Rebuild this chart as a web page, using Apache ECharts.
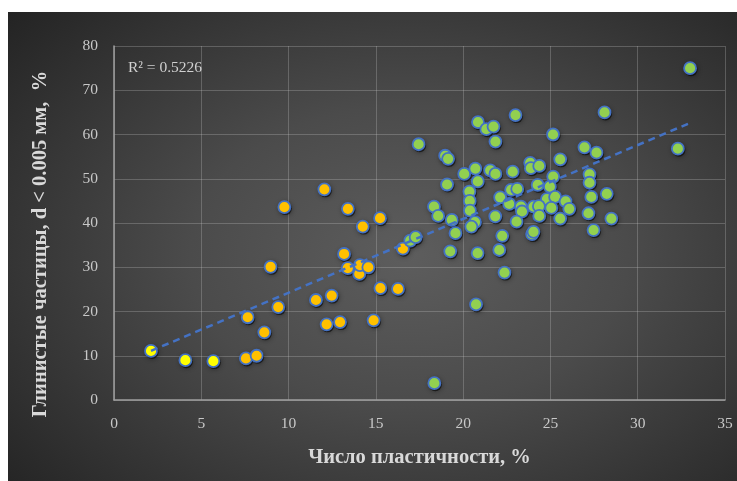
<!DOCTYPE html>
<html>
<head>
<meta charset="utf-8">
<script src="https://cdn.jsdelivr.net/npm/echarts@6/dist/echarts.min.js"></script>
<style>
html,body{margin:0;padding:0;background:#fff;}
#bg{position:absolute;left:8px;top:12px;width:729px;height:469px;
background:radial-gradient(ellipse 75% 80% at 55% 52%, #5d5d5d 0%, #4b4b4b 40%, #333 75%, #222 100%);}
#chart{position:absolute;left:0;top:0;width:737px;height:481px;}
</style>
</head>
<body>
<div id="bg"></div>
<div id="chart"></div>
<script>
// Yellow series
const yellowX = [2.12, 4.09, 5.69];
const yellowY = [11.1, 9.0, 8.8];
// Orange series
const orangeX = [7.56, 8.17, 7.66, 8.61, 8.97, 9.41, 9.76, 11.57, 12.05, 12.47, 12.18, 12.95, 13.18, 13.39, 13.40, 14.05, 14.09, 14.25, 14.57, 14.87, 15.24, 15.26, 16.27, 16.55];
const orangeY = [9.4, 10.0, 18.7, 15.3, 30.1, 21.0, 43.6, 22.6, 47.6, 23.6, 17.1, 17.6, 33.0, 29.8, 43.2, 28.5, 30.5, 39.2, 30.0, 18.0, 41.1, 25.3, 25.1, 34.2];
// Green series
const greenX = [33.0, 28.1, 23.0, 20.85, 21.33, 21.74, 21.85, 17.45, 25.15, 32.3, 26.95, 27.64, 18.97, 19.14, 25.56, 23.84, 23.88, 24.36, 20.06, 20.70, 21.55, 21.85, 22.84, 25.16, 27.24, 27.24, 19.08, 20.84, 24.27, 24.97, 20.36, 22.75, 23.10, 28.23, 27.34, 22.12, 24.80, 25.27, 25.87, 26.08, 20.38, 18.33, 18.57, 22.64, 23.31, 23.37, 24.04, 24.34, 25.05, 20.39, 19.35, 20.68, 21.84, 23.06, 24.36, 25.56, 27.18, 28.49, 27.47, 19.56, 22.24, 23.95, 24.03, 16.97, 17.28, 20.47, 19.26, 20.83, 22.07, 22.37, 20.74, 18.35];
const greenY = [75.0, 65.0, 64.4, 62.8, 61.2, 61.8, 58.4, 57.8, 60.0, 56.8, 57.1, 55.9, 55.2, 54.5, 54.4, 53.6, 52.4, 52.9, 51.1, 52.3, 51.9, 51.1, 51.6, 50.5, 51.0, 49.1, 48.7, 49.4, 48.6, 48.2, 47.1, 47.5, 47.7, 46.6, 45.9, 45.8, 45.4, 45.9, 44.9, 43.2, 45.0, 43.7, 41.6, 44.3, 43.7, 42.6, 43.7, 43.8, 43.4, 42.8, 40.7, 40.2, 41.5, 40.3, 41.6, 41.0, 42.2, 41.0, 38.4, 37.7, 37.1, 37.5, 38.0, 36.0, 36.8, 39.2, 33.6, 33.2, 33.9, 28.8, 21.6, 3.8];
// Linear trendline endpoints
const trendX = [2.12, 33.05];
const trendY = [11.1, 62.7];
// Axis ticks
const xTicks = [0, 5, 10, 15, 20, 25, 30, 35];
const yTicks = [0, 10, 20, 30, 40, 50, 60, 70, 80];
const xTitle = 'Число пластичности, %';
const yTitle = 'Глинистые частицы, d < 0.005 мм,  %';
const r2Text = 'R² = 0.5226';

const zip = (xs, ys) => xs.map((x, i) => [x, ys[i]]);
const serif = '"Liberation Serif", "DejaVu Serif", serif';

function markerStyle(color) {
  return {color: color, opacity: 1, borderColor: '#4472C4', borderWidth: 1.8};
}
function shadowSeries(xs, ys) {
  return {type: 'scatter', data: zip(xs, ys), symbolSize: 13, symbolOffset: [1, 1.5],
    silent: true, z: 2,
    itemStyle: {color: 'rgba(0,0,0,0.55)', opacity: 1,
      shadowBlur: 5, shadowColor: 'rgba(0,0,0,0.8)'}};
}

const chart = echarts.init(document.getElementById('chart'), null, {renderer: 'canvas'});
chart.setOption({
  backgroundColor: 'transparent',
  animation: false,
  grid: {left: 114, right: 12, top: 46, bottom: 81, containLabel: false},
  xAxis: {
    type: 'value', min: xTicks[0], max: xTicks[xTicks.length - 1], interval: 5,
    name: xTitle, nameLocation: 'middle', nameGap: 47,
    nameTextStyle: {color: '#d9d9d9', fontFamily: serif, fontSize: 20.5, fontWeight: 'bold'},
    axisLine: {show: true, onZero: false, lineStyle: {color: '#a0a0a0', width: 1.5}},
    axisTick: {show: false},
    axisLabel: {color: '#c8c8c8', fontFamily: serif, fontSize: 15.5, margin: 16},
    splitLine: {show: true, lineStyle: {color: 'rgba(200,200,200,0.28)', width: 1}}
  },
  yAxis: {
    type: 'value', min: yTicks[0], max: yTicks[yTicks.length - 1], interval: 10,
    axisLine: {show: true, onZero: false, lineStyle: {color: '#a0a0a0', width: 1.5}},
    axisTick: {show: false},
    axisLabel: {color: '#c8c8c8', fontFamily: serif, fontSize: 15.5, margin: 16},
    splitLine: {show: true, lineStyle: {color: 'rgba(200,200,200,0.28)', width: 1}}
  },
  graphic: [
    {type: 'text', left: 128, top: 60,
     style: {text: r2Text, fill: '#d0d0d0', font: '15.5px ' + serif}},
    {type: 'text', x: 41, y: 244, rotation: Math.PI / 2,
     style: {text: yTitle, fill: '#d9d9d9', font: 'bold 20.5px ' + serif,
             align: 'center', verticalAlign: 'middle'}}
  ],
  series: [
    shadowSeries(yellowX, yellowY),
    shadowSeries(orangeX, orangeY),
    shadowSeries(greenX, greenY),
    {type: 'scatter', name: 'yellow', data: zip(yellowX, yellowY), symbolSize: 12,
     itemStyle: markerStyle('#FFFF00'), z: 3},
    {type: 'scatter', name: 'orange', data: zip(orangeX, orangeY), symbolSize: 12,
     itemStyle: markerStyle('#FFC000'), z: 3},
    {type: 'scatter', name: 'green', data: zip(greenX, greenY), symbolSize: 12,
     itemStyle: markerStyle('#92D050'), z: 3},
    {type: 'line', name: 'trend', data: zip(trendX, trendY), symbol: 'none',
     lineStyle: {color: '#4472C4', width: 2.5, type: [7, 5]}, z: 5}
  ]
});
</script>
</body>
</html>
